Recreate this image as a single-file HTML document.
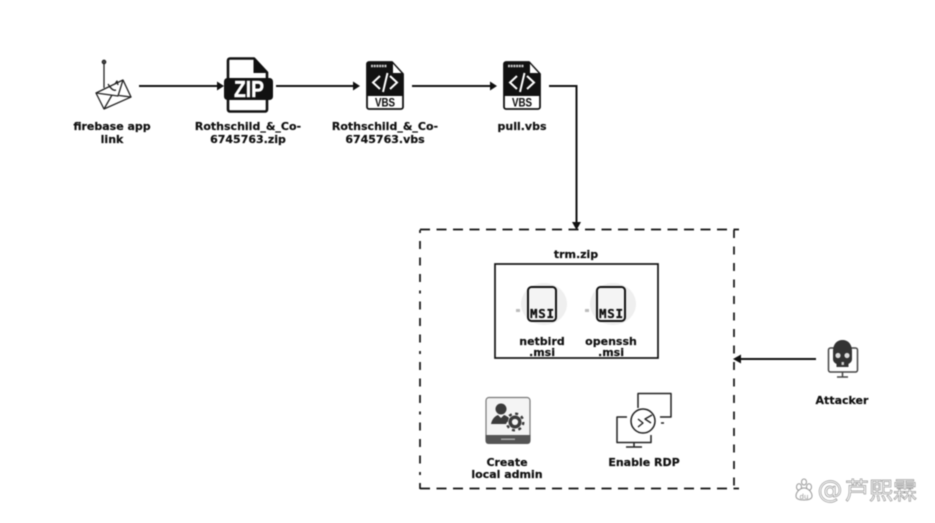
<!DOCTYPE html>
<html><head><meta charset="utf-8">
<style>
html,body{margin:0;padding:0;background:#fff;width:935px;height:523px;overflow:hidden}
svg{display:block;filter:blur(0.5px)}
text{font-family:"DejaVu Sans",sans-serif;font-weight:bold;font-size:11px;fill:#111;stroke:#111;stroke-width:.2;text-anchor:middle}
</style></head><body>
<svg width="935" height="523" viewBox="0 0 935 523" xmlns="http://www.w3.org/2000/svg">
<defs>
<g id="vbs">
<path d="M1 3a2 2 0 0 1 2-2h23l11 12v33a2 2 0 0 1-2 2H3a2 2 0 0 1-2-2z" fill="#fff" stroke="#111" stroke-width="1.8" stroke-linejoin="round"/>
<path d="M1 3a2 2 0 0 1 2-2h23l1 12h10v22H1z" fill="#111"/>
<path d="M26.500 1.500l10 11h-10z" fill="#fff" stroke="#111" stroke-width="1"/>
<path d="M14 15l-7 6.500 7 6.500M24 15l7 6.500-7 6.500M21.500 12l-4.500 19" fill="none" stroke="#fff" stroke-width="2"/>
<path d="M5 5h16" stroke="#ccc" stroke-width="2.500" stroke-dasharray="2 .7"/>
<text x="19" y="45.500" textLength="20" lengthAdjust="spacingAndGlyphs" style="font-family:'Liberation Sans',sans-serif;font-size:12px;stroke-width:.1">VBS</text>
</g>
<g id="msi">
<rect x="1" y="1" width="28" height="34" rx="3.500" fill="#f4f4f4" stroke="#111" stroke-width="2"/>
<text x="15" y="32" textLength="24" style="font-family:'DejaVu Sans Mono',monospace;font-size:12.500px;stroke-width:.3">MSI</text>
</g>
</defs>

<!-- connectors -->
<g fill="none" stroke="#111" stroke-width="2">
<path d="M139 86H218"/>
<path d="M276 86H354"/>
<path d="M412 86H491"/>
<path d="M549 86H576.500V224"/>
<path d="M816 359H738"/>
</g>
<g fill="#111">
<path d="M224 86l-7-4.500v9z"/>
<path d="M360 86l-7-4.500v9z"/>
<path d="M497 86l-7-4.500v9z"/>
<path d="M576.500 230l-4.500-8h9z"/>
<path d="M733 359l8-4.500v9z"/>
</g>

<!-- dashed container -->
<g fill="none" stroke="#111" stroke-width="1.700" stroke-dasharray="10 6.500">
<path d="M420 229.500H739"/>
<path d="M420 488.500H739"/>
<path d="M420 230V489" stroke-dasharray="3 8 8 8.500 8 8.500 8 8.500"/>
<path d="M734 230V489" stroke-dasharray="8 8.500"/>
</g>
<!-- inner box -->
<rect x="495" y="264" width="163" height="94" fill="#fff" stroke="#111" stroke-width="1.700"/>

<!-- envelope -->
<g fill="none" stroke="#222" stroke-width="1.300" stroke-linejoin="round">
<path d="M104 62V88"/>
<circle cx="104" cy="62" r="1.700" fill="#555"/>
<path d="M96 93L123 80L131 97L104 109Z" fill="#fff"/>
<path d="M96 93L118 96L123 80M104 109L112 95M119 95.500L131 97"/>
<path d="M108 84c3 5 6 7 8 6M115 84l2-3 1 4"/>
</g>

<!-- ZIP -->
<g>
<path d="M230 58.500h24l13 14v37a2 2 0 0 1-2 2h-35a2 2 0 0 1-2-2v-49a2 2 0 0 1 2-2z" fill="#fff" stroke="#111" stroke-width="2.600" stroke-linejoin="round"/>
<path d="M254 58.500v14h13z" fill="#111" stroke="#111" stroke-width="1"/>
<rect x="224" y="78" width="49" height="22" rx="3.500" fill="#111"/>
<text x="249" y="97" textLength="30" lengthAdjust="spacingAndGlyphs" style="font-family:'Liberation Sans',sans-serif;font-size:23.500px;fill:#fff;stroke:#fff;stroke-width:.5">ZIP</text>
</g>

<use href="#vbs" x="366" y="61"/>
<use href="#vbs" x="503" y="61"/>

<!-- MSI -->
<ellipse cx="544" cy="304" rx="23" ry="21" fill="#efefef"/>
<ellipse cx="613" cy="304" rx="23" ry="21" fill="#efefef"/>
<rect x="516" y="309" width="4" height="3" fill="#bbb"/>
<rect x="585" y="309" width="4" height="3" fill="#bbb"/>
<use href="#msi" x="527" y="286"/>
<use href="#msi" x="596" y="286"/>

<!-- admin -->
<g>
<rect x="486" y="397.500" width="44" height="45.500" rx="3" fill="#f4f4f4" stroke="#777" stroke-width="1.200"/>
<path d="M485.500 435h45v6a3 3 0 0 1-3 3h-39a3 3 0 0 1-3-3z" fill="#555"/>
<rect x="501" y="438.500" width="14" height="1.500" fill="#aaa"/>
<circle cx="501" cy="409" r="5.500" fill="#3a3a3a"/>
<path d="M491 424c1-5 4-8 7-9l3 3 3-3c2 .5 4 2 5 3l-3 6z" fill="#3a3a3a"/>
<circle cx="515" cy="422" r="4.800" fill="none" stroke="#3a3a3a" stroke-width="3.400"/>
<circle cx="515" cy="422" r="8.300" fill="none" stroke="#3a3a3a" stroke-width="2.400" stroke-dasharray="3 3.500"/>
</g>

<!-- RDP -->
<g fill="none" stroke="#222" stroke-width="1.500" stroke-linejoin="round">
<path d="M638 408V393.500h33V417h-11"/>
<path d="M627 417h-10v25.500h34V435"/>
<path d="M634 442.500v4.500M626 447h16"/>
<circle cx="643" cy="421" r="12" fill="#fff"/>
<path d="M638 419l5 4-5 4M652 415l-7 4 6 4" stroke-width="1.400"/>
<path d="M661 423h3"/>
</g>

<!-- attacker -->
<g>
<rect x="828.500" y="348" width="29" height="24" rx="2" fill="none" stroke="#444" stroke-width="1.500"/>
<path d="M837 377h11M842.500 372v5" stroke="#444" stroke-width="1.500"/>
<path d="M833 351c0-7 4-11 9.500-11s9.500 4 9.500 11v8c0 3-2 4-3.500 5v3h-12v-3c-1.500-1-3.500-2-3.500-5z" fill="#333"/>
<circle cx="838" cy="355.500" r="2.600" fill="#ddd"/>
<circle cx="847" cy="355.500" r="2.600" fill="#ddd"/>
<rect x="841.500" y="362" width="2.500" height="3" fill="#ccc"/>
</g>

<!-- labels -->
<text x="112" y="130">firebase app</text>
<text x="112" y="143">link</text>
<text x="248" y="130">Rothschild_&amp;_Co-</text>
<text x="248" y="143">6745763.zip</text>
<text x="385" y="130">Rothschild_&amp;_Co-</text>
<text x="385" y="143">6745763.vbs</text>
<text x="522" y="130">pull.vbs</text>
<text x="576" y="258">trm.zip</text>
<text x="542" y="345">netbird</text>
<text x="542" y="356">.msi</text>
<text x="611" y="345">openssh</text>
<text x="611" y="356">.msi</text>
<text x="507" y="466">Create</text>
<text x="507" y="478">local admin</text>
<text x="644" y="466">Enable RDP</text>
<text x="842" y="404">Attacker</text>

<!-- watermark -->
<g fill="#fff" stroke="#999" stroke-width="1">
<ellipse cx="799" cy="487" rx="2.500" ry="3.200"/>
<ellipse cx="809" cy="487" rx="2.500" ry="3.200"/>
<ellipse cx="804" cy="482" rx="2.500" ry="3"/>
<path d="M804 488c-4 0-8 4-8 8 0 3 3 4 8 4s8-1 8-4c0-4-4-8-8-8z"/>
</g>
<text x="804" y="499" style="font-size:7px;font-weight:normal;fill:#999;stroke:none">du</text>
<text x="830" y="498" style="font-size:25px;font-weight:normal;fill:#fff;stroke:#999;stroke-width:.7">@</text>
<text x="881" y="499" style="font-family:'Noto Sans CJK SC',sans-serif;font-size:24px;font-weight:normal;fill:#fff;stroke:#999;stroke-width:.7">芦熙霖</text>
</svg>
</body></html>
